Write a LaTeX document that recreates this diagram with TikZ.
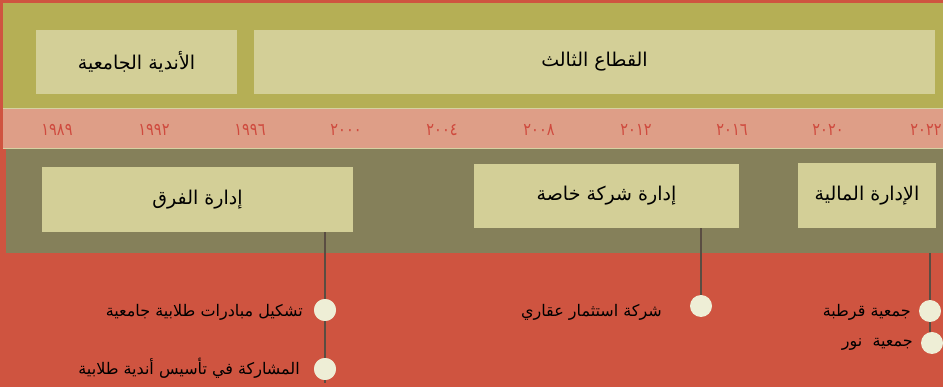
\documentclass[tikz,border=0pt]{standalone}
\usepackage{fontspec}
\newfontfamily\arabicfont[Script=Arabic]{DejaVu Sans}
\TeXXeTstate=1
\definecolor{bgred}{HTML}{CF5440}
\definecolor{oliveA}{HTML}{B5AF55}
\definecolor{oliveB}{HTML}{85805A}
\definecolor{pinkband}{HTML}{DE9E87}
\definecolor{paleline}{HTML}{D6D2A2}
\definecolor{boxfill}{HTML}{D3CF97}
\definecolor{yearred}{HTML}{CF4A3E}
\definecolor{stem}{HTML}{5A4D42}
\definecolor{dotfill}{HTML}{EEEED6}
\tikzset{
  titlebox/.style={fill=boxfill, draw=none, inner sep=0pt, font=\arabicfont\fontsize{19}{22}\selectfont, text=black},
  yearlbl/.style={font=\arabicfont\fontsize{14.5}{16}\selectfont, text=yearred, inner sep=0pt, yscale=1.2},
  itemlbl/.style={font=\arabicfont\fontsize{16}{18}\selectfont, text=black, anchor=east, inner sep=0pt},
  stemline/.style={draw=stem, line width=2.4pt},
  dot/.style={circle, fill=dotfill, draw=none, minimum size=22pt, inner sep=0pt},
}
\begin{document}
\begin{tikzpicture}[x=1pt,y=-1pt]
\useasboundingbox (0,0) rectangle (943,387);
\fill[bgred] (0,0) rectangle (943,387);
\fill[oliveA] (3,3) rectangle (943,108);
\fill[oliveB] (6,148) rectangle (943,253);
\fill[pinkband] (3,108) rectangle (943,148);
\draw[paleline, line width=0.8pt] (3,108) -- (943,108);
\draw[paleline, line width=0.8pt] (3,148) -- (943,148);

% top boxes
\node[titlebox, minimum width=201pt, minimum height=64pt] (clubs) at (136.5,62) {\beginR الأندية الجامعية\endR};
\node[titlebox, minimum width=681pt, minimum height=64pt] (third) at (594.5,62) {\beginR القطاع الثالث\endR};

% years
\node[yearlbl] (y1) at (57,130) {١٩٨٩};
\node[yearlbl] (y2) at (154,130) {١٩٩٢};
\node[yearlbl] (y3) at (250,130) {١٩٩٦};
\node[yearlbl] (y4) at (346,130) {٢٠٠٠};
\node[yearlbl] (y5) at (442,130) {٢٠٠٤};
\node[yearlbl] (y6) at (539,130) {٢٠٠٨};
\node[yearlbl] (y7) at (636,130) {٢٠١٢};
\node[yearlbl] (y8) at (732,130) {٢٠١٦};
\node[yearlbl] (y9) at (828,130) {٢٠٢٠};
\node[yearlbl] (y10) at (926,130) {٢٠٢٢};

% lower boxes
\node[titlebox, minimum width=311pt, minimum height=65pt] (teams) at (197.5,199.5) {\beginR إدارة الفرق\endR};
\node[titlebox, minimum width=265pt, minimum height=64pt] (company) at (606.5,196) {\beginR إدارة شركة خاصة\endR};
\node[titlebox, minimum width=138pt, minimum height=65pt] (finance) at (867,195.5) {\beginR الإدارة المالية\endR};

% stems and dots
\coordinate (s3top) at (930,253);
\coordinate (s1end) at (325,383);
\node[dot] (d1) at (325,310) {};
\node[dot] (d2) at (325,369) {};
\node[dot] (d3) at (701,306) {};
\node[dot] (d4) at (930,311) {};
\node[dot] (d5) at (932,343) {};
\draw[stemline] (teams.south -| d1) -- (s1end);
\draw[stemline] (company.south -| d3) -- (d3.north);
\draw[stemline] (s3top) -- (d4.north);
\draw[stemline] (d4.south) -- (d4.south |- d5.north);
\node[dot] at (d1) {};
\node[dot] at (d2) {};

% labels
\node[itemlbl] (l1) at (303,312) {\beginR تشكيل مبادرات طلابية جامعية\endR};
\node[itemlbl] (l2) at (300,368) {\beginR المشاركة في تأسيس أندية طلابية\endR};
\node[itemlbl] (l3) at (662,312) {\beginR شركة استثمار عقاري\endR};
\node[itemlbl] (l4) at (911,312) {\beginR جمعية قرطبة\endR};
\node[itemlbl] (l5) at (913,344) {\beginR جمعية\ \ نور\endR};
\end{tikzpicture}
\end{document}
